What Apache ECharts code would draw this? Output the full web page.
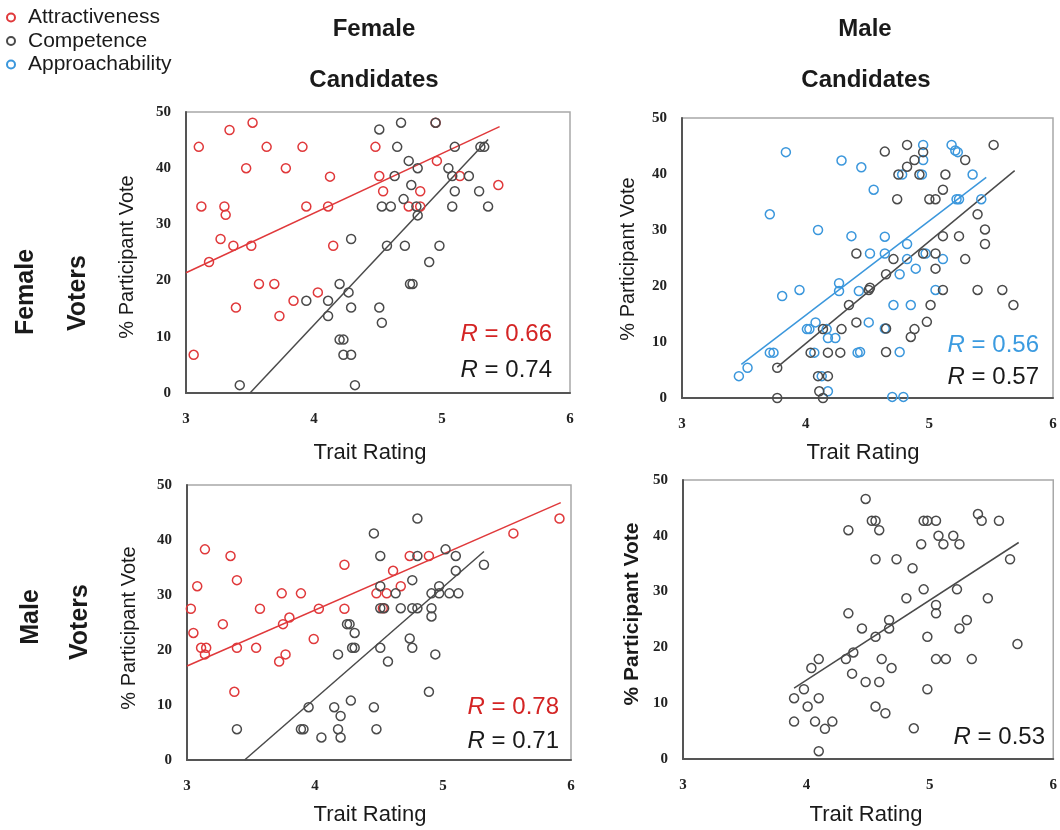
<!DOCTYPE html>
<html>
<head>
<meta charset="utf-8">
<script src="https://cdn.jsdelivr.net/npm/echarts@6/dist/echarts.min.js"></script>
<style>
html,body{margin:0;padding:0;background:#fff;}
#c{width:1060px;height:830px;}
</style>
</head>
<body>
<div id="c"></div>
<script>
// ---- tick labels ----
const xTicks = [3, 4, 5, 6];
const yTicks = [0, 10, 20, 30, 40, 50];
const seriesNames = ['Attractiveness', 'Competence', 'Approachability'];

// ---- Female voters / Female candidates ----
const ffAttr = [[3.10,43.8],[3.34,46.8],[3.52,48.1],[3.12,33.2],[3.30,33.2],[3.31,31.7],[3.27,27.4],[3.37,26.2],[3.51,26.2],[3.18,23.3],[3.47,40.0],[3.63,43.8],[3.78,40.0],[3.91,43.8],[3.94,33.2],[4.11,33.2],[4.125,38.5],[4.15,26.2],[3.57,19.4],[3.69,19.4],[3.39,15.2],[3.73,13.7],[3.84,16.4],[4.03,17.9],[3.06,6.8],[4.48,43.8],[4.95,48.1],[4.96,41.3],[4.51,38.6],[4.54,35.9],[4.83,35.9],[4.74,33.2],[4.83,33.2],[5.14,38.6],[5.44,37.0]];
const ffComp = [[3.42,1.4],[3.94,16.4],[4.11,16.4],[4.11,13.7],[4.20,19.4],[4.27,17.9],[4.29,27.4],[4.29,15.2],[4.20,9.5],[4.23,9.5],[4.23,6.8],[4.29,6.8],[4.32,1.4],[4.51,46.9],[4.68,48.1],[4.95,48.1],[4.65,43.8],[5.10,43.8],[5.30,43.8],[5.33,43.8],[4.74,41.3],[4.81,40.0],[5.05,40.0],[4.63,38.6],[5.08,38.6],[5.21,38.6],[4.76,37.0],[5.10,35.9],[5.29,35.9],[4.70,34.5],[4.53,33.2],[4.60,33.2],[4.80,33.2],[5.08,33.2],[5.36,33.2],[4.81,31.6],[4.57,26.2],[4.71,26.2],[4.98,26.2],[4.90,23.3],[4.75,19.4],[4.77,19.4],[4.51,15.2],[4.53,12.5]];
const ffAttrFit = [[3,21.4],[5.45,47.4]];
const ffCompFit = [[3.5,0],[5.36,45.1]];

// ---- Female voters / Male candidates ----
const fmAppr = [[3.84,43.9],[3.71,32.8],[4.29,42.4],[4.45,41.2],[4.10,30.0],[4.37,28.9],[4.27,20.5],[4.27,19.1],[4.43,19.1],[3.95,19.3],[3.81,18.2],[4.01,12.3],[4.03,12.3],[4.08,13.5],[4.17,12.3],[4.18,10.7],[4.24,10.7],[3.71,8.1],[3.74,8.1],[4.07,8.1],[4.42,8.1],[3.53,5.4],[3.46,3.9],[4.13,3.9],[4.18,1.2],[4.95,45.2],[5.18,45.2],[5.21,44.2],[5.23,43.9],[4.95,42.5],[4.78,39.9],[4.94,39.9],[5.35,39.9],[4.55,37.2],[5.22,35.5],[5.24,35.5],[5.42,35.5],[4.64,28.8],[4.82,27.5],[4.52,25.8],[4.64,25.8],[4.97,25.8],[4.82,24.8],[5.11,24.8],[4.89,23.1],[4.76,22.1],[5.05,19.3],[4.71,16.6],[4.85,16.6],[4.51,13.5],[4.64,12.4],[4.44,8.2],[4.76,8.2],[4.70,0.2],[4.79,0.2]];
const fmComp = [[3.77,5.4],[3.77,0],[4.14,0],[4.11,1.2],[4.10,3.9],[4.18,3.9],[4.04,8.1],[4.18,8.1],[4.28,8.1],[4.14,12.3],[4.29,12.3],[4.35,16.6],[4.41,13.5],[4.41,25.8],[4.64,44.0],[4.82,45.2],[4.95,43.9],[4.88,42.5],[4.82,41.3],[4.75,39.9],[4.92,39.9],[5.13,39.9],[5.52,45.2],[5.29,42.5],[5.11,37.2],[4.74,35.5],[5.00,35.5],[5.05,35.5],[5.39,32.8],[5.45,30.1],[5.45,27.5],[5.11,28.9],[5.24,28.9],[4.95,25.8],[5.05,25.8],[4.71,24.8],[5.29,24.8],[5.05,23.1],[4.65,22.1],[4.52,19.7],[4.51,19.3],[5.11,19.3],[5.39,19.3],[5.59,19.3],[5.68,16.6],[5.01,16.6],[4.65,12.4],[4.88,12.3],[4.98,13.6],[4.85,10.9],[4.65,8.2]];
const fmApprFit = [[3.48,6.0],[5.46,39.4]];
const fmCompFit = [[3.77,5.5],[5.69,40.6]];

// ---- Male voters / Female candidates ----
const mfAttr = [[3.14,38.3],[3.34,37.1],[3.08,31.6],[3.39,32.7],[3.03,27.5],[3.05,23.1],[3.28,24.7],[3.11,20.4],[3.15,20.4],[3.14,19.2],[3.39,20.4],[3.54,20.4],[3.57,27.5],[3.37,12.4],[3.74,30.3],[3.89,30.3],[3.75,24.7],[3.80,25.9],[3.72,17.9],[3.77,19.2],[4.03,27.5],[3.99,22.0],[4.23,35.5],[4.23,27.5],[4.74,37.1],[4.89,37.1],[4.61,34.4],[4.67,31.6],[4.48,30.3],[4.56,30.3],[4.53,27.6],[5.55,41.2],[5.91,43.9]];
const mfComp = [[3.39,5.6],[3.89,5.6],[3.91,5.6],[3.95,9.6],[4.05,4.1],[4.15,9.6],[4.20,8.0],[4.18,5.6],[4.20,4.1],[4.28,10.8],[4.18,19.2],[4.25,24.7],[4.27,24.7],[4.31,23.1],[4.29,20.4],[4.31,20.4],[4.46,41.2],[4.80,43.9],[4.51,37.1],[4.80,37.1],[5.02,38.3],[5.10,37.1],[5.10,34.4],[5.32,35.5],[4.76,32.7],[4.51,31.6],[4.63,30.3],[4.91,30.3],[4.97,31.6],[4.97,30.3],[5.05,30.3],[5.12,30.3],[4.51,27.6],[4.54,27.6],[4.67,27.6],[4.76,27.6],[4.80,27.6],[4.91,27.6],[4.91,26.1],[4.74,22.1],[4.76,20.4],[4.51,20.4],[4.57,17.9],[4.94,19.2],[4.89,12.4],[4.46,9.6],[4.48,5.6]];
const mfAttrFit = [[3,17.1],[5.92,46.8]];
const mfCompFit = [[3.45,0],[5.32,37.9]];

// ---- Male voters / Male candidates ----
const mmComp = [[3.90,10.9],[3.90,6.7],[3.98,12.5],[4.01,9.4],[4.04,16.3],[4.10,17.9],[4.10,10.9],[4.07,6.7],[4.15,5.4],[4.21,6.7],[4.10,1.4],[4.34,41.0],[4.34,26.1],[4.32,17.9],[4.38,19.1],[4.37,15.3],[4.48,46.6],[4.53,42.7],[4.56,42.7],[4.59,41.0],[4.95,42.7],[4.98,42.7],[5.05,42.7],[5.39,43.9],[5.42,42.7],[5.56,42.7],[5.07,40.0],[5.11,38.5],[4.93,38.5],[5.19,40.0],[5.24,38.5],[4.56,35.8],[4.73,35.8],[4.86,34.2],[5.65,35.8],[4.95,30.4],[5.22,30.4],[4.81,28.8],[5.47,28.8],[5.05,27.6],[5.05,26.1],[4.67,24.9],[4.45,23.4],[4.67,23.4],[5.30,24.9],[5.24,23.4],[4.56,21.9],[4.98,21.9],[5.71,20.6],[4.61,17.9],[5.05,17.9],[5.13,17.9],[5.34,17.9],[4.69,16.3],[4.48,13.8],[4.59,13.8],[4.98,12.5],[4.56,9.4],[4.64,8.2],[4.87,5.5]];
const mmCompFit = [[3.90,12.7],[5.72,38.8]];

// ---- R values ----
const rLabels = [
  {text:'0.66', color:'red'}, {text:'0.74', color:'black'},
  {text:'0.56', color:'blue'}, {text:'0.57', color:'black'},
  {text:'0.78', color:'red'}, {text:'0.71', color:'black'},
  {text:'0.53', color:'black'}
];

const COL = {red:'#e0393b', black:'#4a4a4a', blue:'#3b97dc'};
const RCOL = {red:'#d42424', black:'#1a1a1a', blue:'#3b9be0'};
const SANS = 'Liberation Sans, Arial, sans-serif';
const SERIF = 'Liberation Serif, Times New Roman, serif';

const grids = [
  {left:186, top:112, width:384, height:281},
  {left:682, top:118, width:371, height:280},
  {left:187, top:485, width:384, height:275},
  {left:683, top:480, width:372, height:279}
];

function xAx(i){
  return {gridIndex:i, type:'value', min:xTicks[0], max:xTicks[xTicks.length-1], interval:1,
    axisLine:{show:true, onZero:false, lineStyle:{color:'#555', width:2}},
    axisTick:{show:false}, splitLine:{show:false},
    axisLabel:{margin:19, color:'#222', fontFamily:SERIF, fontWeight:'bold', fontSize:15}};
}
function yAx(i){
  return {gridIndex:i, type:'value', min:yTicks[0], max:yTicks[yTicks.length-1], interval:10,
    axisLine:{show:true, onZero:false, lineStyle:{color:'#555', width:2}},
    axisTick:{show:false}, splitLine:{show:false},
    axisLabel:{margin:15, color:'#222', fontFamily:SERIF, fontWeight:'bold', fontSize:15}};
}
function sc(name, data, gi, color){
  return {type:'scatter', name:name, data:data, xAxisIndex:gi, yAxisIndex:gi,
    symbol:'circle', symbolSize:9,
    itemStyle:{color:'rgba(255,255,255,0)', borderColor:color, borderWidth:1.5, opacity:1},
    silent:true, z:3};
}
function fit(data, gi, color){
  return {type:'line', data:data, xAxisIndex:gi, yAxisIndex:gi, symbol:'none', showSymbol:false,
    lineStyle:{color:color, width:1.5}, silent:true, z:2};
}

function txt(str, x, y, opts){
  opts = opts || {};
  return {type:'text', x:x, y:y, rotation:opts.rot||0, silent:true,
    style:{text:str, fill:opts.fill||'#1a1a1a', fontFamily:SANS, fontSize:opts.size||20,
      fontWeight:opts.bold?'bold':'normal', align:'center', verticalAlign:'middle'}};
}
function rTxt(lbl, xRight, y){
  const c = RCOL[lbl.color];
  return {type:'text', x:xRight, y:y, silent:true,
    style:{text:'{i|R}{n| = ' + lbl.text + '}', align:'right', verticalAlign:'middle',
      fill:c, fontFamily:SANS, fontSize:24,
      rich:{i:{fontStyle:'italic', fontFamily:SANS, fontSize:24, fill:c},
            n:{fontFamily:SANS, fontSize:24, fill:c}}}};
}

const R90 = Math.PI/2;
const graphic = [
  txt('Female', 374, 29, {bold:true, size:24}),
  txt('Candidates', 374, 80, {bold:true, size:24}),
  txt('Male', 865, 29, {bold:true, size:24}),
  txt('Candidates', 866, 80, {bold:true, size:24}),
  txt('Female', 26, 292, {bold:true, size:25, rot:R90}),
  txt('Voters', 78, 293, {bold:true, size:25, rot:R90}),
  txt('Male', 31, 617, {bold:true, size:25, rot:R90}),
  txt('Voters', 80, 622, {bold:true, size:25, rot:R90}),
  txt('% Participant Vote', 127, 257, {size:20, rot:R90}),
  txt('% Participant Vote', 628, 259, {size:20, rot:R90}),
  txt('% Participant Vote', 129, 628, {size:20, rot:R90}),
  txt('% Participant Vote', 632, 614, {size:21, bold:true, rot:R90}),
  txt('Trait Rating', 370, 453, {size:22}),
  txt('Trait Rating', 863, 453, {size:22}),
  txt('Trait Rating', 370, 815, {size:22}),
  txt('Trait Rating', 866, 815, {size:22}),
  rTxt(rLabels[0], 552, 334), rTxt(rLabels[1], 552, 370),
  rTxt(rLabels[2], 1039, 345), rTxt(rLabels[3], 1039, 377),
  rTxt(rLabels[4], 559, 707), rTxt(rLabels[5], 559, 741),
  rTxt(rLabels[6], 1045, 737)
];

const option = {
  animation:false,
  backgroundColor:'#fff',
  legend:{data:seriesNames, orient:'vertical', left:1, top:2, itemWidth:8, itemHeight:8, itemGap:2.5,
    selectedMode:false,
    textStyle:{fontFamily:SANS, fontSize:21, color:'#1a1a1a', lineHeight:21, padding:[0,0,0,8]}},
  grid:grids.map(g => Object.assign({show:true, borderColor:'#a8a8a8', borderWidth:1.5, containLabel:false}, g)),
  xAxis:[0,1,2,3].map(xAx),
  yAxis:[0,1,2,3].map(yAx),
  series:[
    sc(seriesNames[0], ffAttr, 0, COL.red),
    sc(seriesNames[1], ffComp, 0, COL.black),
    fit(ffAttrFit, 0, COL.red),
    fit(ffCompFit, 0, COL.black),
    sc(seriesNames[2], fmAppr, 1, COL.blue),
    sc(seriesNames[1], fmComp, 1, COL.black),
    fit(fmApprFit, 1, COL.blue),
    fit(fmCompFit, 1, COL.black),
    sc(seriesNames[0], mfAttr, 2, COL.red),
    sc(seriesNames[1], mfComp, 2, COL.black),
    fit(mfAttrFit, 2, COL.red),
    fit(mfCompFit, 2, COL.black),
    sc(seriesNames[1], mmComp, 3, COL.black),
    fit(mmCompFit, 3, COL.black)
  ],
  graphic:graphic
};

const chart = echarts.init(document.getElementById('c'), null, {renderer:'canvas'});
chart.setOption(option);
</script>
</body>
</html>
